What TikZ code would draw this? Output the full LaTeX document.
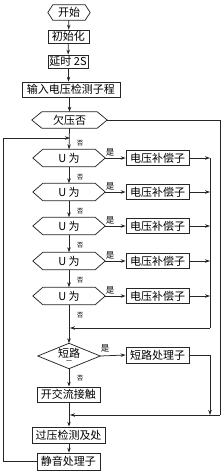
\documentclass[tikz,border=0pt]{standalone}
\usepackage{fontspec}
\setmainfont{Noto Sans CJK SC}
\usetikzlibrary{arrows.meta,calc}
\newcommand\hexdraw[2]{\draw[ln] (#1.west) -- ([xshift=#2]#1.north west) -- ([xshift=-#2]#1.north east) -- (#1.east) -- ([xshift=-#2]#1.south east) -- ([xshift=#2]#1.south west) -- cycle;}
\begin{document}
\begin{tikzpicture}[x=1pt,y=-1pt,
  ln/.style={line width=0.75pt,draw=black!85},
  box/.style={ln,draw,rectangle,inner sep=0pt,font=\fontsize{11}{12}\selectfont},
  hexn/.style={rectangle,inner sep=0pt,font=\fontsize{11}{12}\selectfont},
  arr/.style={ln,-{Stealth[length=5pt,width=3.5pt]}},
  yes/.style={font=\fontsize{8.5}{8.5}\selectfont,inner sep=0pt},
  no/.style={font=\fontsize{6.5}{6.5}\selectfont,inner sep=0pt},
]
\useasboundingbox (0,0) rectangle (222,472);
% top chain
\node[hexn,minimum width=42pt,minimum height=15pt] (start) at (69,12.5) {开始};
\hexdraw{start}{5pt}
\node[box,minimum width=41pt,minimum height=13pt] (init) at (68.5,36.5) {初始化};
\node[box,minimum width=40pt,minimum height=13pt] (delay) at (68,61.5) {延时 2S};
\node[box,minimum width=98pt,minimum height=15pt] (input) at (71,89.5) {输入电压检测子程};
\node[hexn,minimum width=75pt,minimum height=16pt] (under) at (69.5,120) {欠压否};
\hexdraw{under}{10pt}
% U checks
\foreach \i/\y in {1/158,2/192,3/226,4/261,5/296}{
  \node[hexn,minimum width=72pt,minimum height=17pt] (u\i) at (69,\y) {U 为};
  \hexdraw{u\i}{10pt}
  \node[box,minimum width=63pt,minimum height=15pt] (comp\i) at (157.5,\y) {电压补偿子};
  \coordinate (c\i) at (210,\y);
  \draw[arr] (u\i.east) -- (comp\i.west);
  \draw[arr] (comp\i.east) -- (c\i);
  \node[yes] at (110,\y-6) {是};
  \node[no] at (80,\y+19) {否};
}
\node[no] at (80,143) {否};
% short circuit
\node[rectangle,minimum width=62pt,minimum height=25pt,inner sep=0pt,align=center,font=\fontsize{11}{10}\selectfont] (short) at (69,356) {短路\\[-4pt]{\fontsize{6}{6}\selectfont 一}};
\draw[ln] (short.west) -- (short.north) -- (short.east) -- (short.south) -- cycle;
\node[box,minimum width=63pt,minimum height=16pt] (shp) at (157.5,355) {短路处理子};
\node[yes] at (105,348) {是};
\node[no] at (80,378) {否};
\node[box,minimum width=63pt,minimum height=15pt] (ac) at (68.5,394.5) {开交流接触};
\node[box,minimum width=73pt,minimum height=16pt] (over) at (68.5,435) {过压检测及处};
\node[box,minimum width=63pt,minimum height=17pt] (mute) at (68.5,461.5) {静音处理子};
% coordinates
\coordinate (loopin) at (70,138);
\coordinate (loopa) at (3,138);
\coordinate (loopb) at (3,461.5);
\coordinate (colbot) at (210,328);
\coordinate (colin) at (70,328);
\coordinate (outA) at (220,120);
\coordinate (outB) at (220,415);
\coordinate (join) at (70,415);
\coordinate (s1) at (210,355);
\coordinate (s2) at (210,415);
% main vertical
\draw[arr] (start) -- (init);
\draw[arr] (init) -- (delay);
\draw[arr] (delay.south -| init) -- (input.north -| init);
\draw[arr] (input.south -| under) -- (under.north);
\draw[arr] (under.south) -- (u1.north);
\draw[arr] (u1) -- (u2);
\draw[arr] (u2) -- (u3);
\draw[arr] (u3) -- (u4);
\draw[arr] (u4) -- (u5);
\draw[arr] (u5.south) -- (short.north);
\draw[arr] (short.south) -- (ac.north -| short);
\draw[arr] (ac.south -| short) -- (over.north -| short);
\draw[arr] (over.south -| short) -- (mute.north -| short);
% collectors
\draw[ln] (c1) -- (colbot);
\draw[arr] (colbot) -- (colin);
\draw[arr] (short.east) -- (shp.west);
\draw[ln] (shp.east) -- (s1);
\draw[arr] (s1) -- (s2);
\draw[ln] (under.east) -- (outA) -- (outB);
\draw[arr] (outB) -- (join);
% loop back
\draw[ln] (mute.west) -- (loopb) -- (loopa);
\draw[arr] (loopa) -- (loopin);
\end{tikzpicture}
\end{document}
